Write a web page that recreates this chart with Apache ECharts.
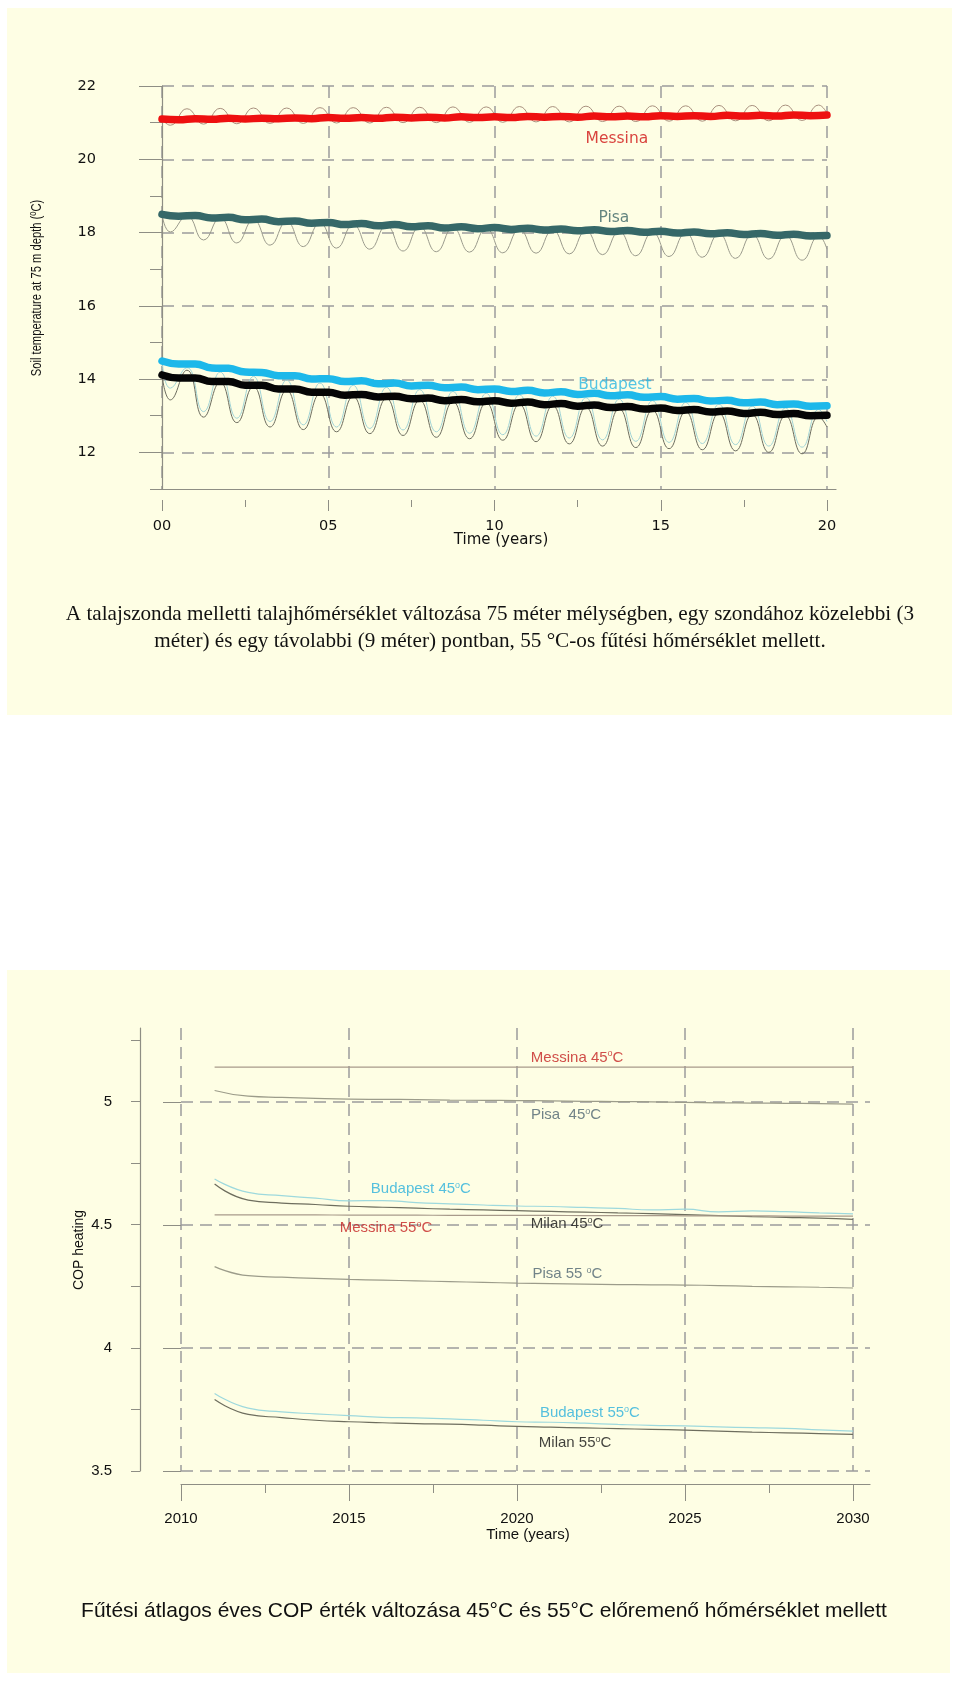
<!DOCTYPE html>
<html><head><meta charset="utf-8">
<script src="https://cdn.jsdelivr.net/npm/echarts@6/dist/echarts.min.js"></script>
<style>
html,body{margin:0;padding:0;background:#ffffff;}
#wrap{position:relative;width:960px;height:1687px;overflow:hidden;}
.panel{position:absolute;background:#FEFEE4;}
#chart{position:absolute;left:0;top:0;width:960px;height:1687px;}
</style></head><body>
<div id="wrap">
<div class="panel" style="left:7px;top:8px;width:945px;height:707px"></div>
<div class="panel" style="left:7px;top:970px;width:943px;height:703px"></div>
<div id="chart"></div>
</div>
<script>
// ---------- DATA: soil temperature (top chart) ----------
const soilTimeDeep = [0,0.5,1,1.5,2,2.5,3,3.5,4,4.5,5,5.5,6,6.5,7,7.5,8,8.5,9,9.5,10,10.5,11,11.5,12,12.5,13,13.5,14,14.5,15,15.5,16,16.5,17,17.5,18,18.5,19,19.5,20];
const soilTimeNear = [0,0.25,0.75,1.25,1.75,2.25,2.75,3.25,3.75,4.25,4.75,5.25,5.75,6.25,6.75,7.25,7.75,8.25,8.75,9.25,9.75,10.25,10.75,11.25,11.75,12.25,12.75,13.25,13.75,14.25,14.75,15.25,15.75,16.25,16.75,17.25,17.75,18.25,18.75,19.25,19.75,20];

const messinaDeep = [21.10,21.08,21.11,21.09,21.12,21.10,21.12,21.11,21.13,21.11,21.14,21.12,21.14,21.12,21.15,21.13,21.15,21.13,21.16,21.14,21.16,21.14,21.17,21.15,21.17,21.15,21.18,21.16,21.18,21.16,21.19,21.17,21.19,21.17,21.20,21.18,21.20,21.18,21.21,21.19,21.21];
const pisaDeep = [18.50,18.45,18.47,18.40,18.42,18.35,18.37,18.30,18.32,18.26,18.28,18.22,18.25,18.19,18.22,18.16,18.19,18.13,18.16,18.11,18.14,18.09,18.12,18.07,18.10,18.05,18.08,18.03,18.06,18.01,18.04,17.99,18.02,17.97,18.00,17.95,17.98,17.93,17.96,17.91,17.92];
const budapestDeep = [14.50,14.42,14.42,14.31,14.30,14.20,14.19,14.10,14.10,14.01,14.02,13.94,13.96,13.88,13.90,13.82,13.84,13.77,13.79,13.72,13.74,13.67,13.70,13.63,13.66,13.59,13.62,13.55,13.58,13.51,13.53,13.46,13.48,13.41,13.43,13.36,13.38,13.31,13.33,13.27,13.28];
const milanDeep = [14.12,14.04,14.04,13.94,13.94,13.84,13.84,13.74,13.74,13.65,13.65,13.57,13.59,13.52,13.54,13.47,13.49,13.42,13.45,13.39,13.42,13.35,13.38,13.31,13.34,13.27,13.30,13.23,13.26,13.19,13.22,13.15,13.18,13.11,13.14,13.07,13.10,13.04,13.07,13.01,13.02];

const messinaNear = [21.10,20.93,21.38,20.96,21.39,20.97,21.40,20.98,21.40,20.98,21.41,20.99,21.41,20.99,21.42,21.00,21.42,21.00,21.43,21.01,21.43,21.01,21.44,21.02,21.44,21.02,21.45,21.03,21.45,21.03,21.46,21.04,21.46,21.04,21.47,21.05,21.47,21.05,21.48,21.06,21.48,21.25];
const pisaNear = [18.50,18.02,18.45,17.80,18.40,17.72,18.35,17.66,18.30,17.62,18.26,17.58,18.22,17.55,18.19,17.50,18.16,17.48,18.13,17.47,18.11,17.45,18.09,17.44,18.07,17.42,18.05,17.40,18.03,17.37,18.01,17.35,17.99,17.33,17.97,17.30,17.95,17.28,17.93,17.25,17.91,17.55];
const budapestNear = [14.50,13.76,14.32,13.12,14.20,12.94,14.08,12.85,13.98,12.76,13.90,12.70,13.84,12.66,13.78,12.62,13.72,12.57,13.67,12.53,13.62,12.49,13.58,12.45,13.54,12.40,13.50,12.35,13.46,12.31,13.42,12.28,13.37,12.25,13.32,12.22,13.27,12.18,13.22,12.15,13.18,12.85];
const milanNear = [14.12,13.44,14.25,12.97,13.92,12.82,13.80,12.70,13.70,12.63,13.60,12.57,13.53,12.52,13.48,12.47,13.43,12.42,13.39,12.38,13.36,12.34,13.32,12.30,13.28,12.24,13.24,12.18,13.20,12.14,13.16,12.11,13.12,12.08,13.08,12.05,13.04,12.01,13.01,11.97,12.98,12.70];

const soilXTickLabels = ['00','05','10','15','20'];
const soilCityNames = ['Messina','Pisa','Budapest','Milan'];
const soilLabelAnchors = [[13.68,20.55],[13.59,18.40],[13.62,13.85],[13.71,11.58]];

// ---------- DATA: COP heating (bottom chart) ----------
const copYears = [2011,2012,2013,2014,2015,2016,2017,2018,2019,2020,2021,2022,2023,2024,2025,2026,2027,2028,2029,2030];
const messina45 = [5.14,5.14,5.14,5.14,5.14,5.14,5.14,5.14,5.14,5.14,5.14,5.14,5.14,5.14,5.14,5.14,5.14,5.14,5.14,5.14];
const pisa45 = [5.045,5.022,5.017,5.013,5.010,5.009,5.008,5.006,5.005,5.004,5.003,5.001,5.000,4.999,4.997,4.995,4.994,4.993,4.992,4.990];
const budapest45 = [4.686,4.631,4.618,4.608,4.597,4.598,4.590,4.585,4.580,4.576,4.574,4.570,4.566,4.560,4.563,4.552,4.556,4.553,4.548,4.544];
const milan45 = [4.665,4.600,4.588,4.582,4.575,4.571,4.567,4.563,4.560,4.557,4.554,4.551,4.548,4.545,4.541,4.537,4.533,4.530,4.527,4.522];
const messina55 = [4.540,4.540,4.540,4.540,4.539,4.539,4.539,4.538,4.538,4.538,4.538,4.537,4.537,4.537,4.536,4.536,4.536,4.535,4.535,4.535];
const pisa55 = [4.330,4.293,4.287,4.282,4.278,4.275,4.272,4.269,4.266,4.263,4.261,4.259,4.257,4.256,4.255,4.253,4.250,4.248,4.246,4.243];
const budapest55 = [3.815,3.755,3.740,3.732,3.725,3.718,3.716,3.712,3.706,3.700,3.698,3.694,3.689,3.685,3.683,3.679,3.676,3.673,3.667,3.662];
const milan55 = [3.790,3.730,3.717,3.706,3.700,3.696,3.692,3.690,3.686,3.681,3.678,3.675,3.672,3.669,3.666,3.662,3.658,3.655,3.652,3.649];

const copLabelTexts = ['Messina 45{s|o}C','Pisa  45{s|o}C','Budapest 45{s|o}C','Messina 55{s|o}C','Milan 45{s|o}C','Pisa 55 {s|o}C','Budapest 55{s|o}C','Milan 55{s|o}C'];
const copLabelAnchors = [[2021.79,5.179],[2021.46,4.947],[2017.14,4.646],[2016.10,4.488],[2021.49,4.504],[2021.50,4.301],[2022.17,3.736],[2021.73,3.614]];

// ---------- helpers ----------
const pair = (xs, ys) => xs.map((x,i)=>[x, ys[i]]);
const gridLine = {type:[12,8], color:'#9c9c9c', width:1.5};
const axisCol = '#8e8e84';
const wideFont = 'DejaVu Sans';
const armFont = 'Liberation Sans';

const chart = echarts.init(document.getElementById('chart'), null, {renderer:'canvas'});

function thin(name, xs, ys, color, xi, yi, w){
  return {type:'line', name, xAxisIndex:xi, yAxisIndex:yi, data:pair(xs,ys), showSymbol:false, symbol:'none',
    smooth:0.5, clip:false, lineStyle:{color, width:w||1}, emphasis:{disabled:true}, z:3, silent:true};
}
function thick(name, xs, ys, color){
  return {type:'line', name, xAxisIndex:2, yAxisIndex:2, data:pair(xs,ys), showSymbol:false, symbol:'none',
    smooth:0.5, clip:false, lineStyle:{color, width:7.5, cap:'round', join:'round'}, emphasis:{disabled:true}, z:5, silent:true};
}

const soilLabelColors = ['#D01414','#3C6666','#29B6E2','#111111'];
const copLabelColors = ['#C42222','#4E6470','#2AB0DC','#C42222','#111111','#4E6470','#2AB0DC','#111111'];

const option = {
  animation:false,
  backgroundColor:'transparent',
  grid:[
    {left:162, top:86, width:665, height:403, containLabel:false, outerBoundsMode:'none'},
    {left:162, top:86, width:674, height:403, containLabel:false, outerBoundsMode:'none'},
    {left:162, top:86, width:665, height:366.7, containLabel:false, outerBoundsMode:'none'},
    {left:181, top:1028, width:672, height:443, containLabel:false, outerBoundsMode:'none'},
    {left:181, top:1040, width:672, height:431, containLabel:false, outerBoundsMode:'none'},
    {left:181, top:1102, width:689, height:369, containLabel:false, outerBoundsMode:'none'}
  ],
  xAxis:[
    {gridIndex:0, type:'value', min:0, max:20, interval:5, offset:11,
      axisLine:{show:false}, axisTick:{show:true, length:11, lineStyle:{color:axisCol}},
      minorTick:{show:true, splitNumber:2, length:7, lineStyle:{color:axisCol}},
      axisLabel:{margin:19, color:'#111', fontFamily:wideFont, fontSize:14.5,
        formatter:(v)=>soilXTickLabels[Math.round(v/5)]},
      splitLine:{show:true, lineStyle:gridLine}, minorSplitLine:{show:false}},
    {gridIndex:1, type:'value', min:0, max:1, offset:11,
      axisLine:{show:true, lineStyle:{color:axisCol, width:1.2}}, axisTick:{show:false}, axisLabel:{show:false}, splitLine:{show:false}},
    {gridIndex:2, type:'value', min:0, max:20, show:false},
    {gridIndex:3, type:'value', min:2010, max:2030, interval:5, offset:13,
      axisLine:{show:false}, axisTick:{show:true, length:17, lineStyle:{color:axisCol}},
      minorTick:{show:true, splitNumber:2, length:9, lineStyle:{color:axisCol}},
      axisLabel:{margin:27, color:'#111', fontFamily:armFont, fontSize:15, formatter:(v)=>String(v)},
      splitLine:{show:true, lineStyle:{type:[12,7], color:'#9c9c9c', width:1.5}}, minorSplitLine:{show:false}},
    {gridIndex:4, type:'value', min:2010, max:2030, show:false},
    {gridIndex:5, type:'value', min:0, max:1, offset:13,
      axisLine:{show:true, lineStyle:{color:axisCol, width:1.2}}, axisTick:{show:false}, axisLabel:{show:false}, splitLine:{show:false}}
  ],
  yAxis:[
    {gridIndex:0, type:'value', min:11, max:22, interval:1, offset:34,
      axisLine:{show:true, lineStyle:{color:axisCol, width:1.2}}, axisTick:{show:true, length:12, lineStyle:{color:axisCol}},
      axisLabel:{show:false}, splitLine:{show:false}},
    {gridIndex:1, type:'value', min:0, max:1, show:false},
    {gridIndex:2, type:'value', min:12, max:22, interval:2, offset:34,
      axisLine:{show:false}, axisTick:{show:true, length:23, lineStyle:{color:axisCol}},
      axisLabel:{margin:32, color:'#111', fontFamily:wideFont, fontSize:14.5},
      splitLine:{show:true, lineStyle:gridLine}},
    {gridIndex:3, type:'value', min:3.5, max:5.3, offset:41,
      axisLine:{show:true, lineStyle:{color:axisCol, width:1.2}}, axisTick:{show:false}, axisLabel:{show:false}, splitLine:{show:false}},
    {gridIndex:4, type:'value', min:3.5, max:5.25, interval:0.25, offset:41,
      axisLine:{show:false}, axisTick:{show:true, length:9, lineStyle:{color:axisCol}}, axisLabel:{show:false}, splitLine:{show:false}},
    {gridIndex:5, type:'value', min:3.5, max:5, interval:0.5, offset:41,
      axisLine:{show:false}, axisTick:{show:true, length:18, lineStyle:{color:axisCol}},
      axisLabel:{margin:28, color:'#111', fontFamily:armFont, fontSize:15},
      splitLine:{show:true, lineStyle:{type:[12,7], color:'#9c9c9c', width:1.5}}}
  ],
  series:[
    thin('Messina near', soilTimeNear, messinaNear, '#A8907E', 2, 2),
    thin('Pisa near', soilTimeNear, pisaNear, '#9A9A8C', 2, 2),
    thin('Budapest near', soilTimeNear, budapestNear, '#A2D4D6', 2, 2),
    thin('Milan near', soilTimeNear, milanNear, '#6C6C5E', 2, 2),
    thick('Messina', soilTimeDeep, messinaDeep, '#EE1010'),
    thick('Pisa', soilTimeDeep, pisaDeep, '#366868'),
    thick('Budapest', soilTimeDeep, budapestDeep, '#1DB8EA'),
    thick('Milan', soilTimeDeep, milanDeep, '#050505'),
    {type:'scatter', xAxisIndex:2, yAxisIndex:2, symbolSize:0.1, itemStyle:{color:'transparent'}, silent:true, z:6,
      data: soilCityNames.map((n,i)=>({name:n, value:soilLabelAnchors[i],
        label:{show:true, position:'inside', formatter:n, color:soilLabelColors[i], fontFamily:wideFont, fontSize:15.5}}))},
    thin('Messina 45', copYears, messina45, '#A89A8A', 4, 4, 1.2),
    thin('Pisa 45', copYears, pisa45, '#9C9C8A', 4, 4, 1.2),
    thin('Budapest 45', copYears, budapest45, '#9ED9DD', 4, 4, 1.2),
    thin('Milan 45', copYears, milan45, '#6E6E5E', 4, 4, 1.2),
    thin('Messina 55', copYears, messina55, '#A89A8A', 4, 4, 1.2),
    thin('Pisa 55', copYears, pisa55, '#9C9C8A', 4, 4, 1.2),
    thin('Budapest 55', copYears, budapest55, '#9ED9DD', 4, 4, 1.2),
    thin('Milan 55', copYears, milan55, '#6E6E5E', 4, 4, 1.2),
    {type:'scatter', xAxisIndex:4, yAxisIndex:4, symbolSize:0.1, itemStyle:{color:'transparent'}, silent:true, z:6,
      data: copLabelTexts.map((t,i)=>({name:t, value:copLabelAnchors[i],
        label:{show:true, position:'inside', formatter:t, color:copLabelColors[i], fontFamily:armFont, fontSize:15,
          rich:{s:{fontSize:9, color:copLabelColors[i], fontFamily:armFont, padding:[0,0,7,0]}}}}))}
  ],
  graphic:[
    {type:'text', x:37, y:288, rotation:Math.PI/2, scaleX:0.8, silent:true,
      style:{text:'Soil temperature at 75 m depth (ºC)', font:'14px "Liberation Sans", sans-serif', fill:'#111', align:'center', verticalAlign:'middle'}},
    {type:'text', x:501, y:540, silent:true,
      style:{text:'Time (years)', font:'15px "DejaVu Sans", sans-serif', fill:'#111', align:'center', verticalAlign:'middle'}},
    {type:'text', x:490, y:614, silent:true,
      style:{text:'A talajszonda melletti talajhőmérséklet változása 75 méter mélységben, egy szondához közelebbi (3', font:'21.2px "Liberation Serif", serif', fill:'#111', align:'center', verticalAlign:'middle'}},
    {type:'text', x:490, y:641, silent:true,
      style:{text:'méter) és egy távolabbi (9 méter) pontban, 55 °C-os fűtési hőmérséklet mellett.', font:'21.2px "Liberation Serif", serif', fill:'#111', align:'center', verticalAlign:'middle'}},
    {type:'text', x:79, y:1250, rotation:Math.PI/2, silent:true,
      style:{text:'COP heating', font:'14px "Liberation Sans", sans-serif', fill:'#111', align:'center', verticalAlign:'middle'}},
    {type:'text', x:528, y:1535, silent:true,
      style:{text:'Time (years)', font:'15px "Liberation Sans", sans-serif', fill:'#111', align:'center', verticalAlign:'middle'}},
    {type:'text', x:484, y:1611, silent:true,
      style:{text:'Fűtési átlagos éves COP érték változása 45°C és 55°C előremenő hőmérséklet mellett', font:'21px "Liberation Sans", sans-serif', fill:'#111', align:'center', verticalAlign:'middle'}}
  ]
};
chart.setOption(option);
</script>
</body></html>
